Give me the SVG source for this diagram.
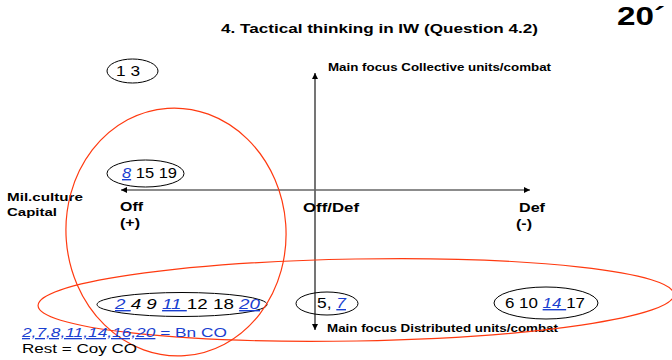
<svg xmlns="http://www.w3.org/2000/svg" width="672" height="360" viewBox="0 0 672 360">
<style>
text{font-family:"Liberation Sans",Arial,sans-serif;fill:#000}
.b{font-weight:bold}
.num{font-size:14px}
.lk{fill:#1a3fd0;font-style:italic;text-decoration:underline}
.it{font-style:italic}
.ov{fill:none;stroke:#000;stroke-width:1}
.red{fill:none;stroke:#ff3a10;stroke-width:1.2}
.ax{stroke:#666;fill:none}
</style>
<defs>
<marker id="ah" viewBox="0 0 8 8" refX="8" refY="4" markerWidth="7" markerHeight="6" markerUnits="userSpaceOnUse" orient="auto-start-reverse">
<path d="M0,0L8,4L0,8z" fill="#000"/>
</marker>
</defs>
<rect width="672" height="360" fill="#fff"/>
<g id="title">
<text class="b" x="221" y="33" font-size="13" textLength="317" lengthAdjust="spacingAndGlyphs">4. Tactical thinking in IW (Question 4.2)</text>
<text class="b" x="617" y="25" font-size="26" textLength="48" lengthAdjust="spacingAndGlyphs">20´</text>
</g>
<g id="connectors">
<line class="ax" x1="315" y1="330" x2="315" y2="73" stroke-width="1.8" marker-start="url(#ah)" marker-end="url(#ah)"/>
<line class="ax" x1="121" y1="190" x2="530" y2="190" stroke-width="1.4" marker-start="url(#ah)" marker-end="url(#ah)"/>
</g>
<g id="axis-labels">
<text class="b" x="328" y="71" font-size="10" textLength="223" lengthAdjust="spacingAndGlyphs">Main focus Collective units/combat</text>
<text class="b" x="327" y="332" font-size="10" textLength="231" lengthAdjust="spacingAndGlyphs">Main focus Distributed units/combat</text>
<text class="b" x="7" y="201" font-size="10.5" textLength="76" lengthAdjust="spacingAndGlyphs">Mil.culture</text>
<text class="b" x="7" y="216" font-size="10.5" textLength="50" lengthAdjust="spacingAndGlyphs">Capital</text>
<text class="b" x="120" y="211" font-size="12.5" textLength="23" lengthAdjust="spacingAndGlyphs">Off</text>
<text class="b" x="120" y="227" font-size="12.5" textLength="20" lengthAdjust="spacingAndGlyphs">(+)</text>
<text class="b" x="303" y="212" font-size="12.5" textLength="56" lengthAdjust="spacingAndGlyphs">Off/Def</text>
<text class="b" x="519" y="212" font-size="12.5" textLength="26" lengthAdjust="spacingAndGlyphs">Def</text>
<text class="b" x="516" y="228" font-size="12.5" textLength="16" lengthAdjust="spacingAndGlyphs">(-)</text>
</g>
<g id="group-1-3">
<ellipse class="ov" cx="132.5" cy="71" rx="25.5" ry="12"/>
<text class="num" x="116" y="76" textLength="24" lengthAdjust="spacingAndGlyphs">1 3</text>
</g>
<g id="group-8-15-19">
<ellipse class="ov" cx="145.5" cy="173.5" rx="38.5" ry="13.5"/>
<text class="num" x="122" y="178" textLength="55" lengthAdjust="spacingAndGlyphs"><tspan class="lk">8</tspan> 15 19</text>
</g>
<g id="group-2-20">
<ellipse class="ov" cx="182" cy="304.5" rx="85" ry="12"/>
<text class="num" x="115" y="309" textLength="145" lengthAdjust="spacingAndGlyphs"><tspan class="lk">2 </tspan><tspan class="it"> 4 9 </tspan><tspan class="lk"> 11 </tspan>12 18 <tspan class="lk">20</tspan></text>
</g>
<g id="group-5-7">
<ellipse class="ov" cx="327" cy="303.5" rx="31" ry="11.5"/>
<text class="num" x="317" y="308" textLength="29" lengthAdjust="spacingAndGlyphs">5, <tspan class="lk">7</tspan></text>
</g>
<g id="group-6-17">
<ellipse class="ov" cx="546" cy="303" rx="52" ry="16"/>
<text class="num" x="505" y="308" textLength="80" lengthAdjust="spacingAndGlyphs">6 10 <tspan class="lk"> 14 </tspan>17</text>
</g>
<g id="red-offensive">
<ellipse class="red" cx="176" cy="232" rx="110" ry="124" transform="rotate(-4 176 232)"/>
</g>
<g id="red-distributed">
<ellipse class="red" cx="356" cy="300" rx="318" ry="41" transform="rotate(-1 356 300)"/>
</g>
<g id="legend">
<text x="22" y="337" font-size="13" textLength="205" lengthAdjust="spacingAndGlyphs"><tspan class="lk">2,7,8,11,14,16,20</tspan><tspan fill="#1a3fd0"> = Bn CO</tspan></text>
<text x="22" y="353" font-size="13" textLength="115" lengthAdjust="spacingAndGlyphs">Rest = Coy CO</text>
</g>
</svg>
